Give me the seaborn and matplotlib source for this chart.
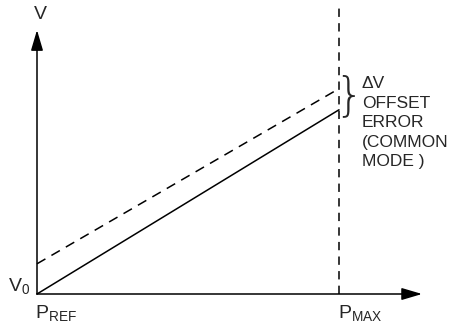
import matplotlib
matplotlib.use("Agg")
import matplotlib.pyplot as plt
import seaborn as sns
import pandas as pd

# data: P from P_REF (0) to P_MAX (1), V relative to V0
p_pts = [0.0, 1.0]
v_ideal = [0.0, 0.61]
v_shift = [0.10, 0.68]
line_names = ["ideal", "shifted"]
offset_lines = ["\u0394V", "OFFSET", "ERROR", "(COMMON", "MODE )"]

sns.set_style("white")
plt.rcParams['font.family'] = ['Liberation Sans', 'DejaVu Sans']
plt.rcParams['mathtext.fontset'] = 'custom'
plt.rcParams['mathtext.rm'] = 'Liberation Sans'
plt.rcParams['mathtext.it'] = 'Liberation Sans'
plt.rcParams['lines.scale_dashes'] = False

df = pd.DataFrame({
    "P": p_pts + p_pts,
    "V": v_ideal + v_shift,
    "line": [line_names[0]] * 2 + [line_names[1]] * 2,
})

fig = plt.figure(figsize=(4.52, 3.26), dpi=100)
ax = fig.add_axes([0, 0, 1, 1])

sns.lineplot(data=df, x="P", y="V", style="line",
             dashes={line_names[0]: "", line_names[1]: (7, 5)},
             color="black", lw=1.1, legend=False, ax=ax)

# limits (302 px per unit, origin at pixel 37,294)
px = 302
ax.set_xlim(-37 / px, 415 / px)
ax.set_ylim(-32 / px, 294 / px)
ax.axis("off")

# P_MAX guide, from the x axis up to the top
ax.vlines(p_pts[1], 0, 0.957, color="black", lw=1.1, linestyles=(0, (6, 4.5)))

arrow = dict(arrowstyle="-|>,head_length=1.25,head_width=0.37",
             lw=1.1, color="black", shrinkA=0, shrinkB=0)
ax.annotate("", xy=(0, 0.874), xytext=(0, 0), arrowprops=arrow)
ax.annotate("", xy=(1.275, 0), xytext=(0, 0), arrowprops=arrow)

ax.text(0.01, 0.925, "V", ha="center", va="center", fontsize=14)
ax.text(-0.022, 0.028, r"$\mathregular{V_0}$", ha="right", va="center", fontsize=14)
ax.text(-0.006, -0.062, r"$\mathregular{P_{REF}}$", ha="left", va="center", fontsize=14)
ax.text(p_pts[1] - 0.003, -0.062, r"$\mathregular{P_{MAX}}$", ha="left", va="center", fontsize=14)

ax.text(1.034, 0.655, "}", ha="center", va="center", fontsize=33,
        family="DejaVu Sans", fontweight=200)
for i, s in enumerate(offset_lines):
    ax.text(1.076, (294 - 82 - 19.6 * i) / px, s, ha="left", va="center_baseline",
            fontsize=12.5)

fig.savefig("out.png", dpi=100)
